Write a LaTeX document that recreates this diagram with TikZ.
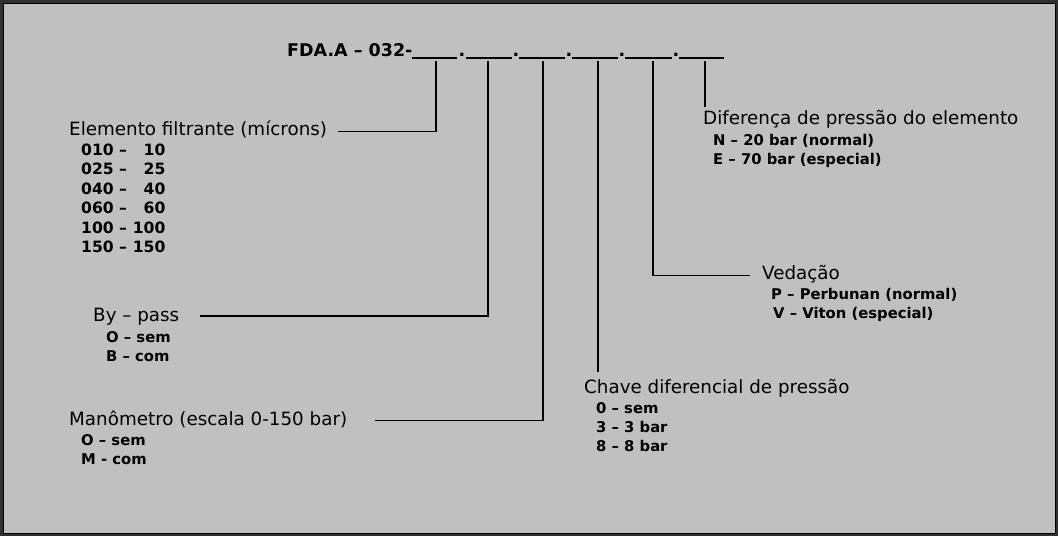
\documentclass[tikz,border=0pt]{standalone}
\usepackage{fontspec}
\setmainfont{DejaVu Sans}
\usepackage{array}
\definecolor{bggray}{HTML}{C0C0C0}
\definecolor{framegray}{HTML}{303030}
\tikzset{
  lbl/.style={anchor=base west, inner sep=0pt, font=\fontsize{18.3}{22}\selectfont},
  sub/.style={anchor=base west, inner sep=0pt, font=\fontsize{14.8}{19.4}\selectfont\bfseries},
  subbig/.style={anchor=base west, inner sep=0pt, font=\fontsize{15.6}{19.5}\selectfont\bfseries},
  ttl/.style={anchor=base west, inner sep=0pt, font=\fontsize{17.5}{21}\selectfont\bfseries},
  lead/.style={line width=1.8pt, black},
  uline/.style={line width=1.2pt, black},
}
\begin{document}
\begin{tikzpicture}[x=1pt,y=-1pt]
\useasboundingbox (0,0) rectangle (1058,536);
\fill[bggray] (0,0) rectangle (1058,536);
\draw[framegray, line width=2.5pt] (1.25,1.25) rectangle (1056.75,534.75);
\draw[black, line width=0.8pt] (2.9,2.9) rectangle (1055.1,533.1);

% title
\node[ttl] (title) at (287,56) {FDA.A – 032-};
\draw[uline] (412,58) -- (457,58);
\draw[uline] (466,58) -- (512,58);
\draw[uline] (519,58) -- (565,58);
\draw[uline] (572,58) -- (618,58);
\draw[uline] (625,58) -- (672,58);
\draw[uline] (679,58) -- (724,58);
\node[ttl] (d1) at (458.5,56) {.};
\node[ttl] (d2) at (512.5,56) {.};
\node[ttl] (d3) at (565.5,56) {.};
\node[ttl] (d4) at (618.5,56) {.};
\node[ttl] (d5) at (672.5,56) {.};

\coordinate (c1) at (436,61);
\coordinate (c2) at (488,61);
\coordinate (c3) at (543,61);
\coordinate (c4) at (598,61);
\coordinate (c5) at (653,61);
\coordinate (c6) at (705,61);

% Elemento filtrante
\node[lbl] (elem) at (69,135) {Elemento filtrante (mícrons)};
\node[subbig] (elemsub) at (81,155) {\renewcommand\arraystretch{1}\setlength\tabcolsep{0pt}%
\begin{tabular}[t]{@{}l@{\ – }r@{}}
010 & \makebox[33pt][r]{10}\\
025 & 25\\
040 & 40\\
060 & 60\\
100 & 100\\
150 & 150
\end{tabular}};
\coordinate (e1) at (338,131.5);
\draw[lead] (c1) |- (e1);

% By-pass
\node[lbl] (bypass) at (93,321) {By – pass};
\node[sub] (bypasssub) at (106,342) {\renewcommand\arraystretch{1}\setlength\tabcolsep{0pt}%
\begin{tabular}[t]{@{}l@{}}O – sem\\B – com\end{tabular}};
\coordinate (e2) at (200,316);
\draw[lead] (c2) |- (e2);

% Manometro
\node[lbl] (mano) at (69,425.5) {Manômetro (escala 0-150 bar)};
\node[sub] (manosub) at (81,445) {\renewcommand\arraystretch{1}\setlength\tabcolsep{0pt}%
\begin{tabular}[t]{@{}l@{}}O – sem\\M - com\end{tabular}};
\coordinate (e3) at (375,420.5);
\draw[lead] (c3) |- (e3);

% Chave
\node[lbl] (chave) at (584,393) {Chave diferencial de pressão};
\node[sub] (chavesub) at (596,413) {\renewcommand\arraystretch{1}\setlength\tabcolsep{0pt}%
\begin{tabular}[t]{@{}l@{}}0 – sem\\3 – 3 bar\\8 – 8 bar\end{tabular}};
\coordinate (e4) at (598,372);
\draw[lead] (c4) -- (e4);

% Vedacao
\node[lbl] (veda) at (762,279) {Vedação};
\node[sub] (vedasub) at (771,299) {\renewcommand\arraystretch{1}\setlength\tabcolsep{0pt}%
\begin{tabular}[t]{@{}l@{}}P – Perbunan (normal)\\\hspace{2pt}V – Viton (especial)\end{tabular}};
\coordinate (e5) at (750,275.5);
\draw[lead] (c5) |- (e5);

% Diferenca
\node[lbl] (dif) at (703,124.5) {Diferença de pressão do elemento};
\node[sub] (difsub) at (713,145) {\renewcommand\arraystretch{1}\setlength\tabcolsep{0pt}%
\begin{tabular}[t]{@{}l@{}}N – 20 bar (normal)\\E – 70 bar (especial)\end{tabular}};
\coordinate (e6) at (705,107);
\draw[lead] (c6) -- (e6);
\end{tikzpicture}
\end{document}
